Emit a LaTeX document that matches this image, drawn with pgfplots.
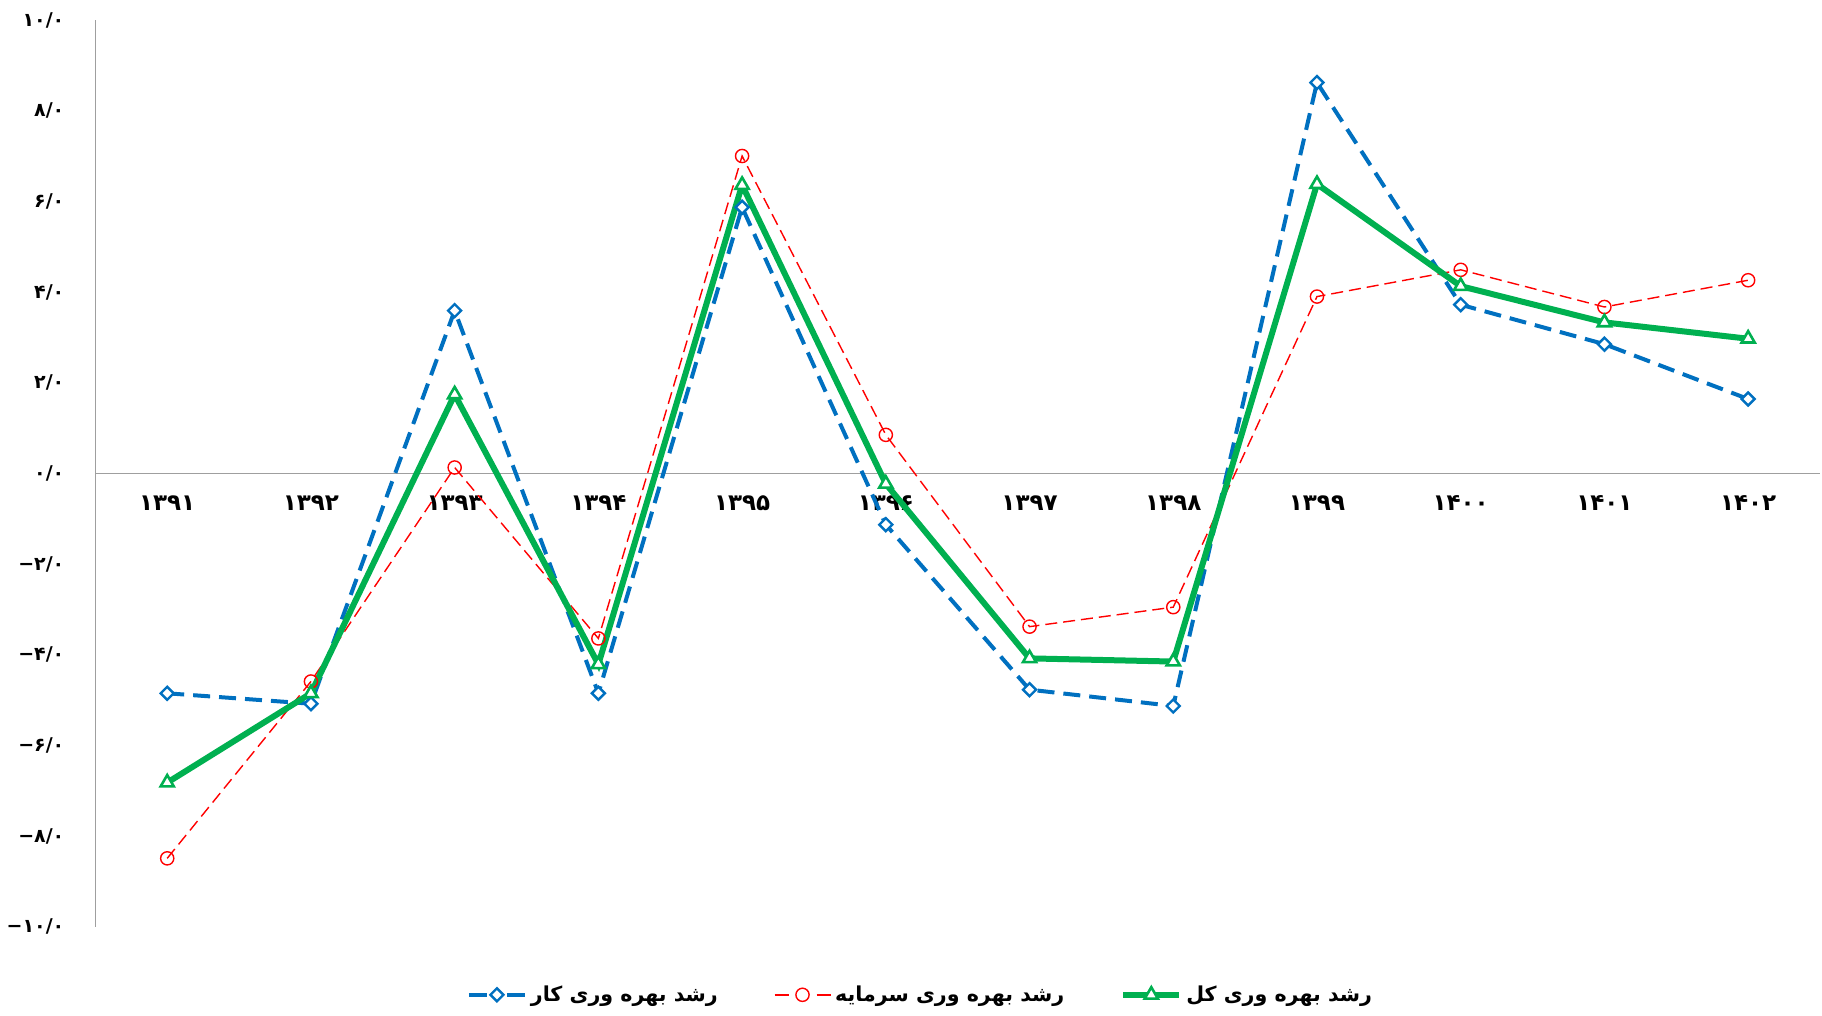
\documentclass[border=0pt]{standalone}
\usepackage{pgfplots}
\pgfplotsset{compat=1.18}
\usepackage{fontspec}
\TeXXeTstate=1
\newfontfamily\arabicfont[Script=Arabic]{DejaVu Sans}
\newfontfamily\latinfont{DejaVu Sans}
\newcommand{\mn}{{\latinfont\bfseries −}}
\definecolor{cblue}{HTML}{0070C0}
\definecolor{cred}{HTML}{FF0000}
\definecolor{cgreen}{HTML}{00B050}
\pgfplotsset{
  bluelegend/.style={legend image code/.code={\draw[mark repeat=2,mark phase=2,##1,dash pattern=on 9pt off 10pt on 9pt off 0pt] plot coordinates {(0pt,0pt) (14pt,0pt) (28pt,0pt)};}},
  redlegend/.style={legend image code/.code={\draw[mark repeat=2,mark phase=2,##1,dash pattern=on 7pt off 14pt on 7pt off 0pt] plot coordinates {(0pt,0pt) (14pt,0pt) (28pt,0pt)};}},
}

\begin{document}
\begin{tikzpicture}
\begin{axis}[
  scale only axis, width=862.5pt, height=453.5pt,
  xmin=-0.5, xmax=11.5, ymin=-10, ymax=10,
  axis x line*=middle, axis y line*=left,
  axis line style={draw=gray!75, line width=0.8pt},
  major tick length=0pt,
  clip=false,
  xtick={0,...,11},
  xticklabels={۱۳۹۱,۱۳۹۲,۱۳۹۳,۱۳۹۴,۱۳۹۵,۱۳۹۶,۱۳۹۷,۱۳۹۸,۱۳۹۹,۱۴۰۰,۱۴۰۱,۱۴۰۲},
  xticklabel style={font=\arabicfont\bfseries\fontsize{11.5}{12}\selectfont, anchor=north, yshift=-7.5pt},
  ytick={-10,-8,...,10},
  yticklabels={\mn۱۰/۰,\mn۸/۰,\mn۶/۰,\mn۴/۰,\mn۲/۰,۰/۰,۲/۰,۴/۰,۶/۰,۸/۰,۱۰/۰},
  yticklabel style={font=\arabicfont\bfseries\fontsize{9.5}{10}\selectfont, anchor=east, xshift=-12pt},
  legend columns=3,
  legend style={draw=none, fill=none, at={(0.479,-0.075)}, anchor=center,
    font=\arabicfont\bfseries\fontsize{10.3}{12}\selectfont,
    /tikz/every even column/.append style={column sep=26pt}},
  legend cell align=left,
  legend image code/.code={\draw[mark repeat=2,mark phase=2,#1] plot coordinates {(0pt,0pt) (14pt,0pt) (28pt,0pt)};},
]
\addplot[cblue, line width=2pt, dash pattern=on 8.5pt off 4.5pt, mark=square*, mark size=2.3pt,
  mark options={solid, fill=white, line width=1.2pt, rotate=45}, bluelegend]
  coordinates {(0,-4.85) (1,-5.08) (2,3.59) (3,-4.85) (4,5.87) (5,-1.13) (6,-4.77) (7,-5.13) (8,8.62) (9,3.72) (10,2.85) (11,1.64)};
\addlegendentry{\beginR رشد بهره وری کار\endR}
\addplot[cred, line width=0.7pt, dash pattern=on 6pt off 3pt, mark=o, mark size=3.3pt,
  mark options={solid, fill=white, line width=0.7pt}, redlegend]
  coordinates {(0,-8.49) (1,-4.59) (2,0.13) (3,-3.64) (4,7.0) (5,0.85) (6,-3.38) (7,-2.95) (8,3.90) (9,4.49) (10,3.67) (11,4.26)};
\addlegendentry{\beginR رشد بهره وری سرمایه\endR}
\addplot[cgreen, line width=3pt, mark=triangle*, mark size=3.8pt,
  mark options={solid, fill=white, line width=1.3pt}]
  coordinates {(0,-6.82) (1,-4.85) (2,1.74) (3,-4.21) (4,6.36) (5,-0.23) (6,-4.08) (7,-4.15) (8,6.38) (9,4.13) (10,3.33) (11,2.97)};
\addlegendentry{\beginR رشد بهره وری کل\endR}
\end{axis}
\path ([xshift=-47.5pt,yshift=-44.5pt]current axis.south west) rectangle ([xshift=1pt,yshift=10pt]current axis.north east);
\end{tikzpicture}
\end{document}
